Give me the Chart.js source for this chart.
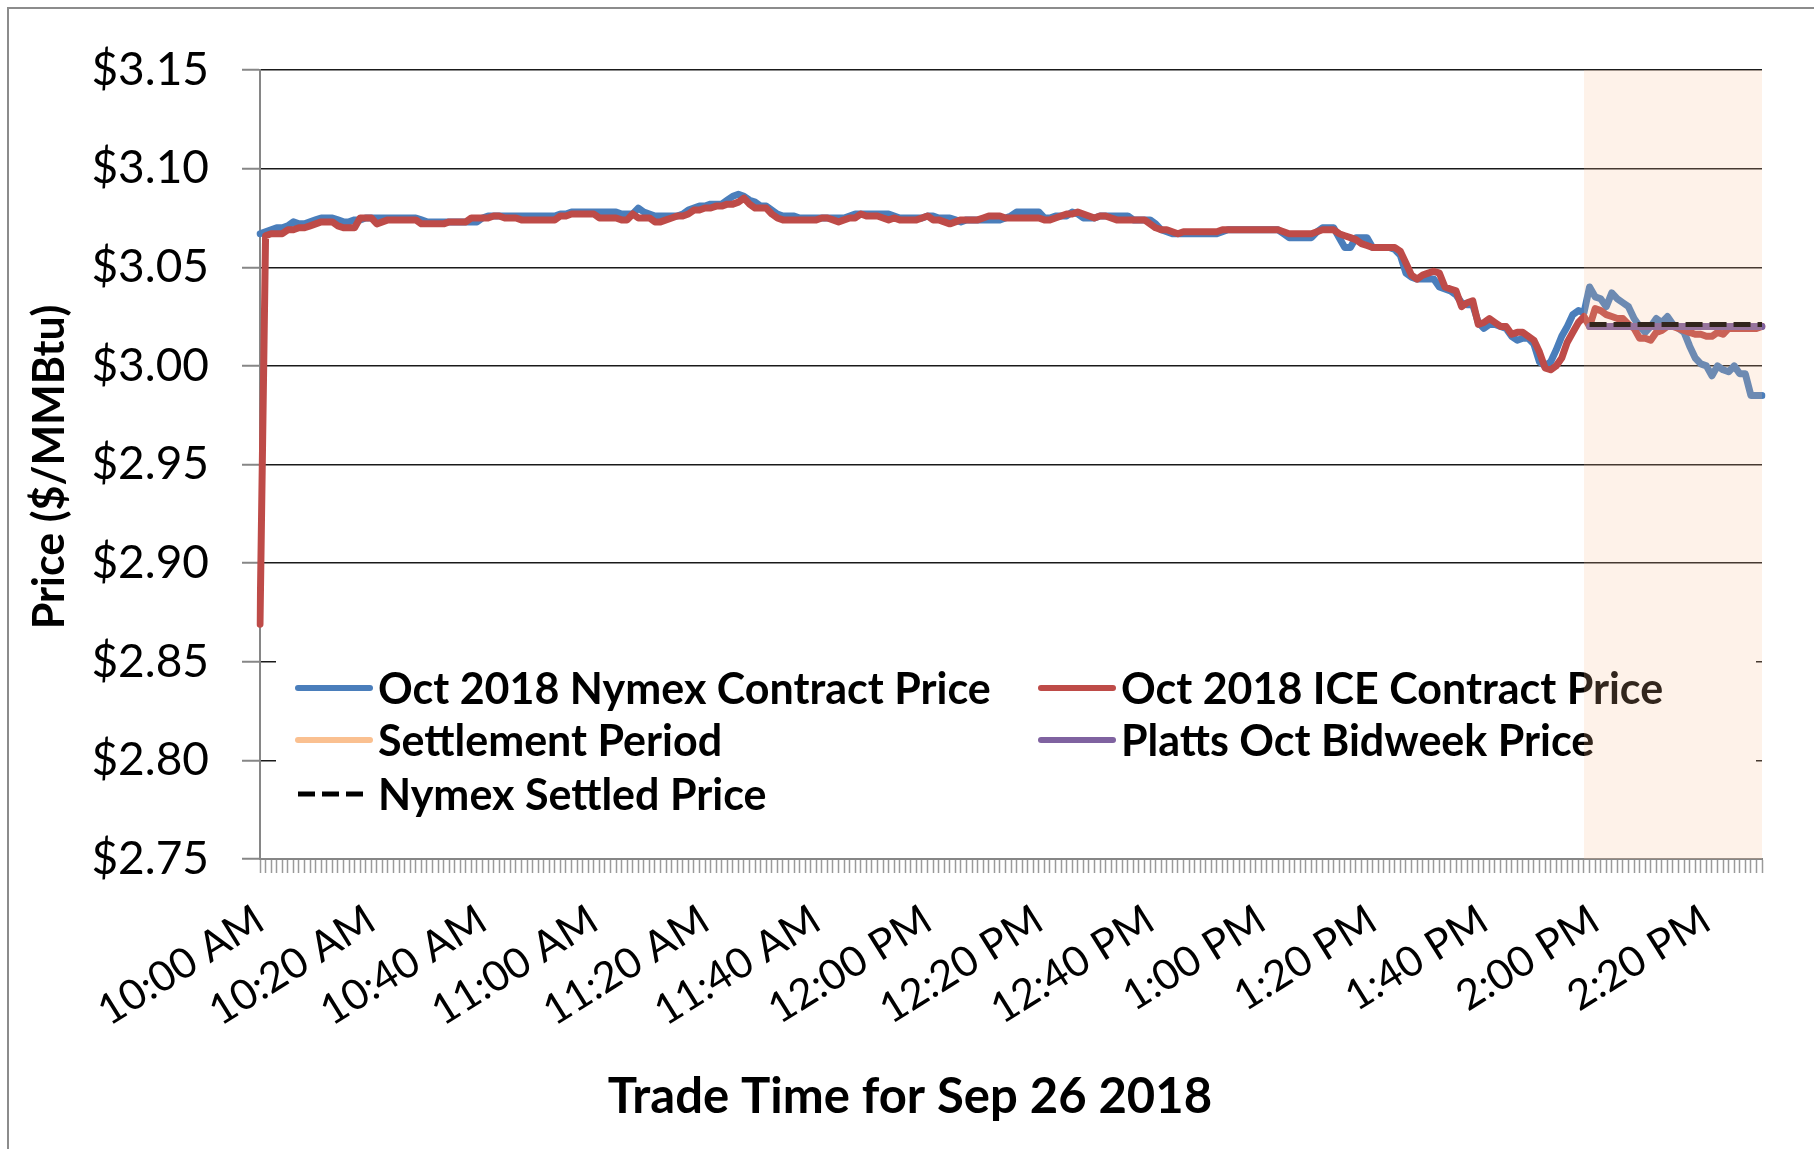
<!DOCTYPE html>
<html>
<head>
<meta charset="utf-8">
<title>Nymex vs ICE Oct 2018</title>
<script src="https://cdn.jsdelivr.net/npm/chart.js@4.4.0/dist/chart.umd.min.js"></script>
<style>
  html, body { margin: 0; padding: 0; background: #fff; }
  #wrap { position: relative; width: 1814px; height: 1149px; }
</style>
</head>
<body>
<div id="wrap"><canvas id="price-chart"></canvas></div>
<script>
// Oct 2018 Nymex contract, one value per minute from 10:00 AM to 2:30 PM
const nymexPrice = [
  3.067,3.068,3.069,3.070,3.070,3.071,3.073,3.072,3.072,3.073,
  3.074,3.075,3.075,3.075,3.074,3.073,3.073,3.074,3.074,3.075,
  3.075,3.075,3.075,3.075,3.075,3.075,3.075,3.075,3.075,3.074,
  3.073,3.073,3.073,3.073,3.073,3.073,3.073,3.073,3.073,3.073,
  3.075,3.076,3.076,3.076,3.076,3.076,3.076,3.076,3.076,3.076,
  3.076,3.076,3.076,3.076,3.077,3.077,3.078,3.078,3.078,3.078,
  3.078,3.078,3.078,3.078,3.078,3.077,3.077,3.077,3.080,3.078,
  3.077,3.076,3.076,3.076,3.076,3.076,3.077,3.079,3.080,3.081,
  3.081,3.082,3.082,3.082,3.084,3.086,3.087,3.086,3.084,3.083,
  3.081,3.081,3.079,3.077,3.076,3.076,3.076,3.075,3.075,3.075,
  3.075,3.075,3.075,3.075,3.075,3.075,3.076,3.077,3.077,3.077,
  3.077,3.077,3.077,3.077,3.076,3.075,3.075,3.075,3.075,3.075,
  3.076,3.076,3.075,3.075,3.075,3.074,3.073,3.074,3.074,3.074,
  3.074,3.074,3.074,3.074,3.075,3.076,3.078,3.078,3.078,3.078,
  3.078,3.075,3.075,3.076,3.076,3.076,3.078,3.077,3.075,3.075,
  3.075,3.076,3.076,3.076,3.076,3.076,3.076,3.074,3.074,3.074,
  3.074,3.072,3.069,3.068,3.067,3.067,3.067,3.067,3.067,3.067,
  3.067,3.067,3.067,3.068,3.069,3.069,3.069,3.069,3.069,3.069,
  3.069,3.069,3.069,3.069,3.067,3.065,3.065,3.065,3.065,3.065,
  3.068,3.070,3.070,3.070,3.065,3.060,3.060,3.065,3.065,3.065,
  3.060,3.060,3.060,3.060,3.059,3.056,3.047,3.045,3.044,3.044,
  3.044,3.044,3.040,3.039,3.038,3.036,3.032,3.031,3.031,3.022,
  3.019,3.021,3.021,3.020,3.019,3.015,3.013,3.014,3.014,3.011,
  3.002,3.000,3.002,3.008,3.015,3.020,3.026,3.028,3.027,3.040,
  3.035,3.034,3.030,3.037,3.034,3.032,3.030,3.024,3.020,3.017,
  3.020,3.024,3.022,3.025,3.021,3.019,3.017,3.010,3.004,3.001,
  3.000,2.995,3.000,2.998,2.997,3.000,2.996,2.996,2.985,2.985,
  2.985
];

// Oct 2018 ICE contract, same minutes
const icePrice = [
  2.869,3.066,3.067,3.067,3.067,3.069,3.069,3.070,3.070,3.071,
  3.072,3.073,3.073,3.073,3.071,3.070,3.070,3.070,3.075,3.075,
  3.075,3.072,3.073,3.074,3.074,3.074,3.074,3.074,3.074,3.072,
  3.072,3.072,3.072,3.072,3.073,3.073,3.073,3.073,3.075,3.075,
  3.075,3.075,3.076,3.076,3.075,3.075,3.075,3.074,3.074,3.074,
  3.074,3.074,3.074,3.074,3.076,3.076,3.077,3.077,3.077,3.077,
  3.077,3.075,3.075,3.075,3.075,3.074,3.074,3.077,3.075,3.075,
  3.075,3.073,3.073,3.074,3.075,3.076,3.076,3.077,3.079,3.079,
  3.080,3.080,3.081,3.081,3.082,3.082,3.083,3.085,3.082,3.080,
  3.080,3.080,3.077,3.075,3.074,3.074,3.074,3.074,3.074,3.074,
  3.074,3.075,3.075,3.074,3.073,3.074,3.075,3.075,3.077,3.076,
  3.076,3.076,3.075,3.074,3.075,3.074,3.074,3.074,3.074,3.075,
  3.076,3.074,3.074,3.073,3.072,3.073,3.074,3.074,3.074,3.074,
  3.075,3.076,3.076,3.076,3.075,3.075,3.075,3.075,3.075,3.075,
  3.075,3.074,3.074,3.075,3.076,3.077,3.077,3.078,3.077,3.076,
  3.075,3.076,3.076,3.075,3.074,3.074,3.074,3.074,3.074,3.074,
  3.072,3.070,3.069,3.069,3.068,3.067,3.068,3.068,3.068,3.068,
  3.068,3.068,3.068,3.069,3.069,3.069,3.069,3.069,3.069,3.069,
  3.069,3.069,3.069,3.069,3.068,3.067,3.067,3.067,3.067,3.067,
  3.068,3.069,3.069,3.069,3.067,3.066,3.065,3.064,3.062,3.061,
  3.060,3.060,3.060,3.060,3.060,3.058,3.052,3.046,3.044,3.046,
  3.047,3.048,3.047,3.040,3.039,3.038,3.030,3.032,3.033,3.021,
  3.022,3.024,3.022,3.020,3.020,3.016,3.017,3.017,3.015,3.013,
  3.007,2.999,2.998,3.000,3.004,3.012,3.017,3.022,3.025,3.020,
  3.029,3.028,3.026,3.025,3.024,3.024,3.021,3.019,3.014,3.014,
  3.013,3.017,3.018,3.020,3.020,3.019,3.018,3.017,3.016,3.016,
  3.015,3.015,3.017,3.016,3.019,3.019,3.019,3.019,3.019,3.019,
  3.020
];

const shadeWindow = ['1:58 PM', '2:30 PM'];
const settlementWindow = ['1:59 PM', '2:30 PM'];
const settlementTop = 3.15;
const plattsBidweek = 3.020;
const nymexSettled = 3.021;
const yTicks = [2.75, 3.15, 0.05]; // min, max, step

const firstMinute = 10 * 60;
const labelEvery = 20;

function formatTime(m) {
  const h = Math.floor(m / 60);
  const mm = m % 60;
  const h12 = h % 12 || 12;
  return h12 + ':' + String(mm).padStart(2, '0') + ' ' + (h >= 12 ? 'PM' : 'AM');
}
const labels = nymexPrice.map((_, i) => formatTime(firstMinute + i));

const BLUE = '#4A7EBB';
const RED = '#BE4B48';
const PEACH = '#FAC090';
const PURPLE = '#7F62A0';

Chart.defaults.font.family = 'Lato, "Open Sans", sans-serif';
Chart.defaults.color = '#000';

// legend layout (Excel style box sitting inside the plot)
const legendBox = { x: 276, y: 636, w: 1480, h: 214 };
const legendCols = [298, 1041];
const legendRows = [688, 740, 794];
const legendItems = [
  { label: 'Oct 2018 Nymex Contract Price', color: BLUE, col: 0, row: 0 },
  { label: 'Oct 2018 ICE Contract Price', color: RED, col: 1, row: 0 },
  { label: 'Settlement Period', color: PEACH, col: 0, row: 1 },
  { label: 'Platts Oct Bidweek Price', color: PURPLE, col: 1, row: 1 },
  { label: 'Nymex Settled Price', color: '#000', dash: [17, 7], col: 0, row: 2 }
];

function drawLegend(ctx) {
  ctx.save();
  ctx.font = 'bold 43px Lato, sans-serif';
  ctx.textBaseline = 'middle';
  ctx.fillStyle = '#000';
  legendItems.forEach(item => {
    const x = legendCols[item.col];
    const y = legendRows[item.row];
    ctx.beginPath();
    ctx.strokeStyle = item.color;
    ctx.lineWidth = item.dash ? 5 : 6;
    ctx.lineCap = item.dash ? 'butt' : 'round';
    ctx.setLineDash(item.dash || []);
    ctx.moveTo(x, y);
    ctx.lineTo(x + 72, y);
    ctx.stroke();
    ctx.setLineDash([]);
    ctx.fillText(item.label, x + 80, y + 2);
  });
  ctx.restore();
}

const excelLook = {
  id: 'excelLook',
  beforeDraw(chart) {
    const ctx = chart.ctx;
    ctx.save();
    ctx.strokeStyle = '#8c8c8c';
    ctx.lineWidth = 2;
    ctx.strokeRect(8, 8, 1900, 1300);
    ctx.restore();
  },
  beforeDatasetsDraw(chart) {
    const ctx = chart.ctx;
    ctx.save();
    ctx.fillStyle = '#fff';
    ctx.fillRect(legendBox.x, legendBox.y, legendBox.w, legendBox.h);
    ctx.restore();
  },
  afterDatasetDraw(chart, args) {
    // legend goes under the settlement shading, over everything else
    if (args.index === 4) drawLegend(chart.ctx);
  },
  afterDraw(chart) {
    const ctx = chart.ctx;
    ctx.save();
    ctx.fillStyle = '#000';
    ctx.textAlign = 'center';
    ctx.textBaseline = 'middle';
    ctx.font = 'bold 49px Lato, sans-serif';
    ctx.fillText('Trade Time for Sep 26 2018', 910, 1097);
    ctx.translate(50, 467);
    ctx.rotate(-Math.PI / 2);
    ctx.font = 'bold 43px Lato, sans-serif';
    ctx.fillText('Price ($/MMBtu)', 0, 0);
    ctx.restore();
  }
};

const ctx = document.getElementById('price-chart').getContext('2d');
const priceChart = new Chart(ctx, {
  type: 'line',
  data: {
    labels: labels,
    datasets: [
      {
        label: 'Settlement Period',
        data: shadeWindow.map(t => ({ x: t, y: settlementTop })),
        borderWidth: 0,
        borderColor: 'rgba(0,0,0,0)',
        backgroundColor: 'rgba(250, 192, 144, 0.2)',
        fill: 'start',
        order: -1
      },
      {
        label: 'Oct 2018 Nymex Contract Price',
        data: nymexPrice,
        borderColor: BLUE,
        borderWidth: 7,
        order: 3
      },
      {
        label: 'Oct 2018 ICE Contract Price',
        data: icePrice,
        borderColor: RED,
        borderWidth: 7,
        order: 2
      },
      {
        label: 'Platts Oct Bidweek Price',
        data: settlementWindow.map(t => ({ x: t, y: plattsBidweek })),
        borderColor: PURPLE,
        borderWidth: 7,
        order: 1
      },
      {
        label: 'Nymex Settled Price',
        data: settlementWindow.map(t => ({ x: t, y: nymexSettled })),
        borderColor: '#000',
        borderWidth: 5,
        borderDash: [17, 7],
        borderCapStyle: 'butt',
        order: 0
      }
    ]
  },
  options: {
    responsive: true,
    maintainAspectRatio: false,
    animation: false,
    layout: { padding: { left: 0, right: 52, top: 70, bottom: 0 } },
    elements: {
      point: { radius: 0 },
      line: { tension: 0, borderJoinStyle: 'round', borderCapStyle: 'round' }
    },
    plugins: {
      legend: { display: false },
      tooltip: { enabled: false }
    },
    scales: {
      x: {
        type: 'category',
        offset: false,
        afterFit(scale) { scale.height = 290; },
        border: { display: true, color: '#868686', width: 2 },
        grid: {
          display: true,
          drawOnChartArea: false,
          drawTicks: true,
          tickLength: 14,
          tickColor: '#9a9a9a',
          tickWidth: 1.5
        },
        ticks: {
          autoSkip: false,
          minRotation: 32,
          maxRotation: 32,
          padding: 22,
          font: { size: 42 },
          color: '#000',
          callback(value, index) {
            return index % labelEvery === 0 ? this.getLabelForValue(value) : '';
          }
        }
      },
      y: {
        min: yTicks[0],
        max: yTicks[1],
        afterFit(scale) { scale.width = 260; },
        border: { display: true, color: '#868686', width: 2 },
        grid: {
          color: c => Math.abs(c.tick.value - yTicks[0]) < 1e-6 ? 'rgba(0,0,0,0)' : '#1a1a1a',
          lineWidth: 1.5,
          tickLength: 18,
          tickColor: '#868686',
          tickWidth: 2
        },
        ticks: {
          stepSize: yTicks[2],
          padding: 33,
          font: { size: 46 },
          color: '#000',
          callback: v => '$' + Number(v).toFixed(2)
        }
      }
    }
  },
  plugins: [excelLook]
});
</script>
</body>
</html>
